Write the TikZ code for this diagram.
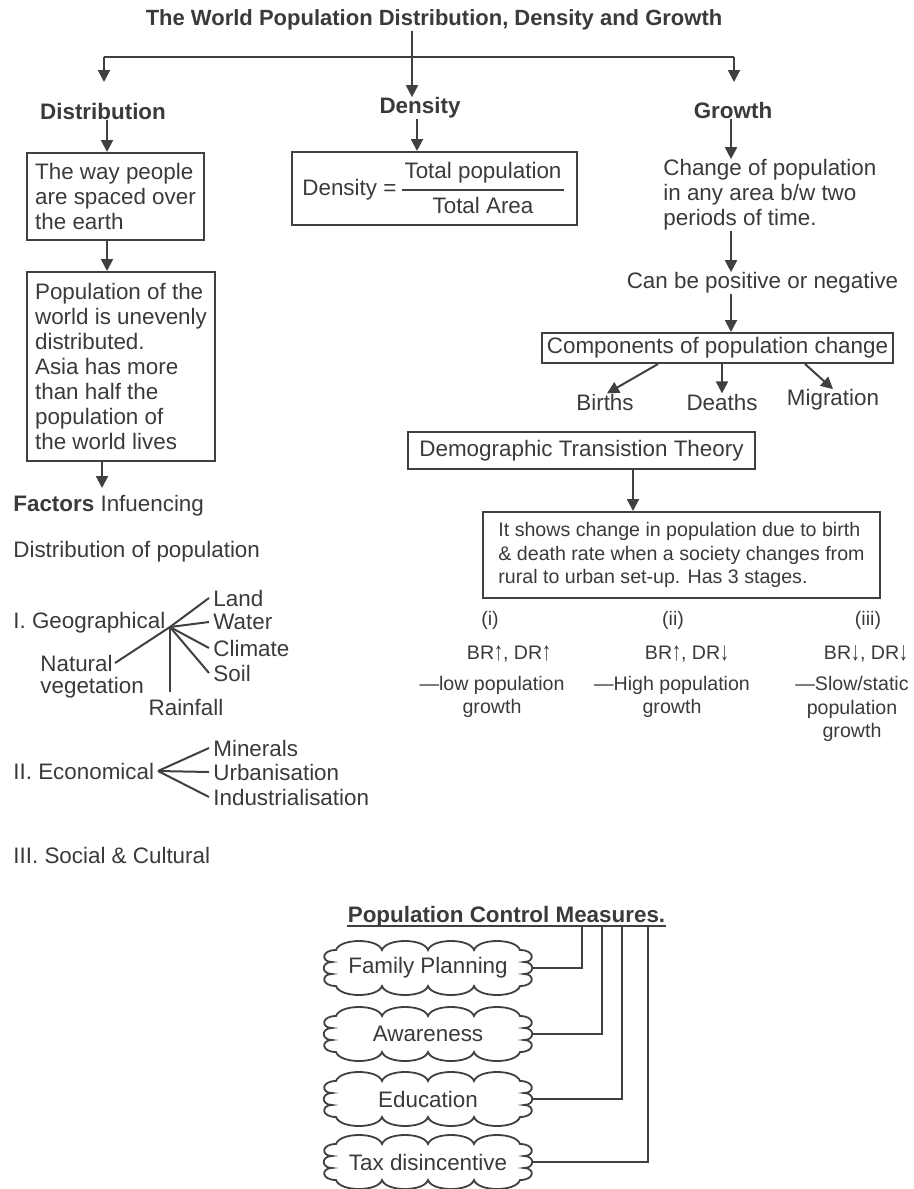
\documentclass[tikz,border=0pt]{standalone}
\usepackage{fontspec}
\usepackage{graphicx}
\setmainfont{Liberation Sans}
\usetikzlibrary{arrows.meta}
\definecolor{ink}{HTML}{404040}
\definecolor{txtc}{HTML}{3A3A3A}
\newcommand{\msz}{\fontsize{11.2pt}{12.5pt}\selectfont}
\newcommand{\ssz}{\fontsize{9.8pt}{11.75pt}\selectfont}
\newcommand{\tsz}{\fontsize{11pt}{13pt}\selectfont}
\newcommand{\myup}{\raisebox{-0.2pt}{\scalebox{0.9}[1.35]{↑}}}
\newcommand{\mydn}{\raisebox{-0.2pt}{\scalebox{0.9}[1.35]{↓}}}
\begin{document}
\begin{tikzpicture}[x=0.5pt,y=-0.5pt,
  every node/.style={font=\msz, text=txtc, inner sep=0pt},
  hd/.style={font=\msz\bfseries},
  boxn/.style={draw=ink, line width=1pt},
  ln/.style={draw=ink, line width=1pt},
  arr/.style={draw=ink, line width=1pt, -{Triangle[length=6pt,width=6pt]}},
  sm/.style={font=\ssz},
  cltext/.style={minimum width=105pt, minimum height=26.5pt},
  cloudpic/.pic={
    \draw[draw=ink, line width=0.9pt]
      (-92,-18) .. controls (-88,-30) and (-50,-30) .. (-46,-18)
      .. controls (-42,-30) and (-4,-30) .. (0,-18)
      .. controls (4,-30) and (42,-30) .. (46,-18)
      .. controls (50,-30) and (88,-30) .. (92,-18)
      .. controls (107,-18) and (107,-6) .. (96,-6)
      .. controls (107,-6) and (107,6) .. (96,6)
      .. controls (107,6) and (107,18) .. (92,18)
      .. controls (88,30) and (50,30) .. (46,18)
      .. controls (42,30) and (4,30) .. (0,18)
      .. controls (-4,30) and (-42,30) .. (-46,18)
      .. controls (-50,30) and (-88,30) .. (-92,18)
      .. controls (-107,18) and (-107,6) .. (-96,6)
      .. controls (-107,6) and (-107,-6) .. (-96,-6)
      .. controls (-107,-6) and (-107,-18) .. (-92,-18) -- cycle;
  }
]
\useasboundingbox (0,0) rectangle (914,1189);

% title and three branches
\node[font=\tsz\bfseries] (title) at (434,20) {The World Population Distribution, Density and Growth};
\node[hd] (dist) at (103,111) {Distribution};
\node[hd] (dens) at (420,108) {Density};
\node[hd] (grow) at (733,110) {Growth};
\coordinate (tL) at (104,57);
\coordinate (tM) at (412,57);
\coordinate (tR) at (734,57);
\coordinate (aL) at (104,82);
\coordinate (aR) at (734,82);
\draw[ln] (tL) -- (tR);
\draw[arr] (title.south -| tM) -- (dens.north -| tM);
\draw[arr] (tL) -- (aL);
\draw[arr] (tR) -- (aR);

% distribution column
\node[boxn, align=left, minimum width=88.5pt, minimum height=43.5pt] (box1) at (115.5,196.5) {The way people\\are spaced over\\the earth};
\node[boxn, align=left, minimum width=94pt, minimum height=94.5pt] (box2) at (121,366.5) {Population of the\\world is unevenly\\distributed.\\Asia has more\\than half the\\population of\\the world lives};
\coordinate (xD) at (107,0);
\draw[arr] (dist.south -| xD) -- (box1.north -| xD);
\draw[arr] (box1.south -| xD) -- (box2.north -| xD);
\coordinate (f1) at (102,488);
\draw[arr] (box2.south -| f1) -- (f1);
\node[anchor=west] (fac) at (13,506) {\textbf{Factors} Infuencing};
\node[anchor=west] (distp) at (13,552) {Distribution of population};

% geographical
\node[anchor=west] (geo) at (13,623) {I. Geographical};
\coordinate (hub) at (170,627);
\node[anchor=west] (land) at (213,598) {Land};
\node[anchor=west] (water) at (213,622) {Water};
\node[anchor=west] (clim) at (213,648) {Climate};
\node[anchor=west] (soil) at (213,673) {Soil};
\node[anchor=west] (nat1) at (40,663) {Natural};
\node[anchor=west] (nat2) at (40,688) {vegetation};
\node (rain) at (186,707) {Rainfall};
\draw[ln] (hub) -- ([xshift=-2pt]land.west);
\draw[ln] (hub) -- ([xshift=-2pt]water.west);
\draw[ln] (hub) -- ([xshift=-2pt]clim.west);
\draw[ln] (hub) -- ([xshift=-2pt]soil.west);
\draw[ln] (hub) -- ([xshift=1pt]nat1.east);
\draw[ln] (hub) -- ([yshift=3pt]hub |- rain.north);

% economical
\node[anchor=west] (eco) at (13,771) {II. Economical};
\coordinate (hub2) at (158,771);
\node[anchor=west] (mine) at (213,748) {Minerals};
\node[anchor=west] (urb) at (213,772) {Urbanisation};
\node[anchor=west] (ind) at (213,797) {Industrialisation};
\draw[ln] (hub2) -- ([xshift=-2pt]mine.west);
\draw[ln] (hub2) -- ([xshift=-2pt]urb.west);
\draw[ln] (hub2) -- ([xshift=-2pt]ind.west);
\node[anchor=west] (soc) at (13,855) {III. Social \& Cultural};

% density
\node[boxn, minimum width=142.5pt, minimum height=36.5pt] (dbox) at (434.5,188.5) {};
\node[anchor=west] (deq) at (302,190) {Density =};
\node (num) at (483,173) {Total population};
\node (den) at (483,205) {Total Area};
\draw[ln] ([xshift=-1pt]num.west |- deq.center) -- ([xshift=1pt]num.east |- deq.center);
\coordinate (xd) at (417,0);
\draw[arr] (dens.south -| xd) -- (dbox.north -| xd);

% growth
\coordinate (xg) at (731,0);
\node[align=left, anchor=west] (gtext) at (663,195) {Change of population\\in any area b/w two\\periods of time.};
\node (pos) at (762.5,283) {Can be positive or negative};
\node[boxn, minimum width=175.5pt, minimum height=15pt] (comp) at (717.5,348) {Components of population change};
\draw[arr] (grow.south -| xg) -- (gtext.north -| xg);
\draw[arr] (gtext.south -| xg) -- (pos.north -| xg);
\draw[arr] (pos.south -| xg) -- (comp.north -| xg);
\node (births) at (605,402) {Births};
\node (deaths) at (722,402) {Deaths};
\node (migr) at (833,400) {Migration};
\coordinate (cb) at (658,363);
\coordinate (cm) at (805,363);
\draw[arr] (comp.south -| cb) -- ([xshift=1pt]births.north);
\draw[arr] (comp.south -| deaths) -- (deaths.north);
\draw[arr] (comp.south -| cm) -- (migr.north);

% demographic transition
\node[boxn, minimum width=173.5pt, minimum height=18.5pt] (demo) at (581.5,450.5) {Demographic Transistion Theory};
\node[boxn, sm, align=left, minimum width=198.5pt, minimum height=43pt] (itbox) at (681.5,555) {It shows change in population due to birth\\\& death rate when a society changes from\\rural to urban set-up. Has 3 stages.};
\coordinate (xt) at (633,0);
\draw[arr] (demo.south -| xt) -- (itbox.north -| xt);

\node[sm] (s1) at (490,620) {(i)};
\node[sm] (s2) at (673,620) {(ii)};
\node[sm] (s3) at (868,620) {(iii)};
\node[sm] (b1) at (509,654) {BR\myup, DR\myup};
\node[sm] (b2) at (687,654) {BR\myup, DR\mydn};
\node[sm] (b3) at (866,654) {BR\mydn, DR\mydn};
\node[sm, align=center] (g1) at (492,697) {—low population\\growth};
\node[sm, align=center] (g2) at (672,697) {—High population\\growth};
\node[sm, align=center] (g3) at (852,709) {—Slow/static\\population\\growth};

% population control measures
\node[font=\msz\bfseries] (pcm) at (506.5,917) {Population Control Measures.};
\coordinate (ulw) at ([yshift=-1.5pt]pcm.base west);
\coordinate (ule) at ([yshift=-1.5pt]pcm.base east);
\draw[draw=ink, line width=0.8pt] (ulw) -- (ule);
\pic at (428,968) {cloudpic};
\pic at (428,1034) {cloudpic};
\pic at (428,1099) {cloudpic};
\pic at (428,1162) {cloudpic};
\node[cltext] (c1) at (428,968) {Family Planning};
\node[cltext] (c2) at (428,1034) {Awareness};
\node[cltext] (c3) at (428,1099) {Education};
\node[cltext] (c4) at (428,1162) {Tax disincentive};
\coordinate (k1) at (582,0);
\coordinate (k2) at (602,0);
\coordinate (k3) at (622,0);
\coordinate (k4) at (648,0);
\draw[ln] (c1.east) -| (ulw -| k1);
\draw[ln] (c2.east) -| (ulw -| k2);
\draw[ln] (c3.east) -| (ulw -| k3);
\draw[ln] (c4.east) -| (ulw -| k4);
\end{tikzpicture}
\end{document}
